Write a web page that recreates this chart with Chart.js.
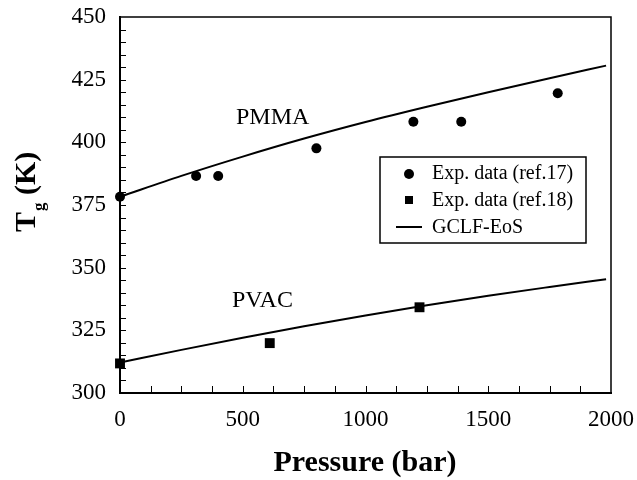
<!DOCTYPE html>
<html>
<head>
<meta charset="utf-8">
<script src="https://cdn.jsdelivr.net/npm/chart.js@4.4.1/dist/chart.umd.min.js"></script>
<style>
  html, body { margin: 0; padding: 0; background: #fff; }
  #wrap { width: 637px; height: 480px; }
</style>
</head>
<body>
<div id="wrap"><canvas id="tg_chart" width="637" height="480"></canvas></div>
<script>
const pmmaPressure = [0, 310, 400, 800, 1195, 1390, 1783];
const pmmaTg = [378.3, 386.6, 386.6, 397.6, 408.2, 408.2, 419.6];
const pvacPressure = [0, 610, 1220];
const pvacTg = [311.8, 319.9, 334.2];

// GCLF-EoS model curves
const modelPressure = [0, 250, 500, 750, 1000, 1250, 1500, 1750, 1980];
const pmmaModel = [378.3, 386.6, 394.3, 401.5, 408.1, 414.2, 420.0, 425.6, 430.6];
const pvacModel = [312.2, 317.2, 322.0, 326.6, 330.9, 335.0, 338.8, 342.3, 345.4];

const xTicks = [0, 500, 1000, 1500, 2000];
const yTicks = [300, 325, 350, 375, 400, 425, 450];

const legendLabels = ['Exp. data (ref.17)', 'Exp. data (ref.18)', 'GCLF-EoS'];

const SERIF = '"Liberation Serif", "Times New Roman", serif';

function pts(xs, ys) {
    return xs.map((x, i) => ({x: x, y: ys[i]}));
}

// frame, inward ticks, curve labels, axis titles and the legend box
const decorPlugin = {
    id: 'decor',
    afterDatasetsDraw(chart) {
        const ctx = chart.ctx;
        const a = chart.chartArea;
        const xs = chart.scales.x;
        const ys = chart.scales.y;
        ctx.save();
        ctx.strokeStyle = '#000';
        // top and right frame
        ctx.lineWidth = 1.5;
        ctx.beginPath();
        ctx.moveTo(a.left, a.top);
        ctx.lineTo(a.right, a.top);
        ctx.lineTo(a.right, a.bottom);
        ctx.stroke();
        // inward ticks
        ctx.lineWidth = 1;
        ctx.beginPath();
        for (let v = 305; v < 450; v += 5) {
            const py = Math.round(ys.getPixelForValue(v)) + 0.5;
            ctx.moveTo(a.left, py);
            ctx.lineTo(a.left + 6, py);
        }
        for (let v = 125; v < 2000; v += 125) {
            const px = Math.round(xs.getPixelForValue(v)) + 0.5;
            ctx.moveTo(px, a.bottom);
            ctx.lineTo(px, a.bottom - 7);
        }
        ctx.stroke();

        ctx.fillStyle = '#000';
        ctx.textBaseline = 'alphabetic';
        ctx.font = '24px ' + SERIF;
        ctx.fillText('PMMA', 236, 124);
        ctx.fillText('PVAC', 232, 307);

        // x title
        ctx.font = 'bold 30px ' + SERIF;
        ctx.textAlign = 'center';
        ctx.fillText('Pressure (bar)', 365, 471);

        // y title with subscript
        ctx.save();
        ctx.translate(35, 232);
        ctx.rotate(-Math.PI / 2);
        ctx.textAlign = 'left';
        ctx.font = 'bold 30px ' + SERIF;
        ctx.fillText('T', 0, 0);
        let w = ctx.measureText('T').width;
        ctx.font = 'bold 17px ' + SERIF;
        ctx.fillText('g', w + 1, 9);
        w += ctx.measureText('g').width + 1;
        ctx.font = 'bold 30px ' + SERIF;
        ctx.fillText(' (K)', w, 0);
        ctx.restore();

        // legend
        const lx = 380, ly = 157, lw = 206, lh = 86;
        ctx.fillStyle = '#fff';
        ctx.fillRect(lx, ly, lw, lh);
        ctx.lineWidth = 1.5;
        ctx.strokeRect(lx, ly, lw, lh);
        ctx.fillStyle = '#000';
        ctx.beginPath();
        ctx.arc(409, 174, 5, 0, Math.PI * 2);
        ctx.fill();
        ctx.fillRect(405, 196, 8, 8);
        ctx.lineWidth = 2;
        ctx.beginPath();
        ctx.moveTo(396, 227);
        ctx.lineTo(422, 227);
        ctx.stroke();
        ctx.font = '20px ' + SERIF;
        ctx.textAlign = 'left';
        ctx.textBaseline = 'middle';
        legendLabels.forEach((t, i) => ctx.fillText(t, 432, 174 + i * 27));
        ctx.restore();
    }
};

new Chart(document.getElementById('tg_chart'), {
    type: 'scatter',
    data: {
        datasets: [
            {
                type: 'line',
                label: 'PMMA GCLF-EoS',
                data: pts(modelPressure, pmmaModel),
                borderColor: '#000',
                borderWidth: 2,
                pointRadius: 0,
                cubicInterpolationMode: 'monotone',
                fill: false
            },
            {
                type: 'line',
                label: 'PVAC GCLF-EoS',
                data: pts(modelPressure, pvacModel),
                borderColor: '#000',
                borderWidth: 2,
                pointRadius: 0,
                cubicInterpolationMode: 'monotone',
                fill: false
            },
            {
                label: legendLabels[0],
                data: pts(pmmaPressure, pmmaTg),
                pointStyle: 'circle',
                pointRadius: 5,
                backgroundColor: '#000',
                borderColor: '#000',
                borderWidth: 0,
                clip: false
            },
            {
                label: legendLabels[1],
                data: pts(pvacPressure, pvacTg),
                pointStyle: 'rect',
                pointRadius: 7,
                backgroundColor: '#000',
                borderColor: '#000',
                borderWidth: 0,
                clip: false
            }
        ]
    },
    options: {
        responsive: false,
        animation: false,
        events: [],
        layout: { padding: { left: 0, top: 17, right: 26, bottom: 0 } },
        plugins: {
            legend: { display: false },
            tooltip: { enabled: false }
        },
        scales: {
            x: {
                type: 'linear',
                min: 0,
                max: 2000,
                afterFit: (s) => {
                    s.height = 87;
                    s.paddingLeft = 0;
                    s.paddingRight = 0;
                },
                afterBuildTicks: (s) => { s.ticks = xTicks.map(v => ({value: v})); },
                grid: { display: false, drawTicks: false },
                border: { display: true, color: '#000', width: 2 },
                ticks: {
                    color: '#000',
                    padding: 13,
                    maxRotation: 0,
                    callback: (v) => String(v),
                    font: { family: SERIF, size: 23 }
                }
            },
            y: {
                type: 'linear',
                min: 300,
                max: 450,
                afterFit: (s) => {
                    s.width = 120;
                    s.paddingTop = 0;
                    s.paddingBottom = 0;
                },
                afterBuildTicks: (s) => { s.ticks = yTicks.map(v => ({value: v})); },
                grid: { display: false, drawTicks: false },
                border: { display: true, color: '#000', width: 2 },
                ticks: {
                    color: '#000',
                    padding: 14,
                    callback: (v) => String(v),
                    font: { family: SERIF, size: 23 }
                }
            }
        }
    },
    plugins: [decorPlugin]
});
</script>
</body>
</html>
